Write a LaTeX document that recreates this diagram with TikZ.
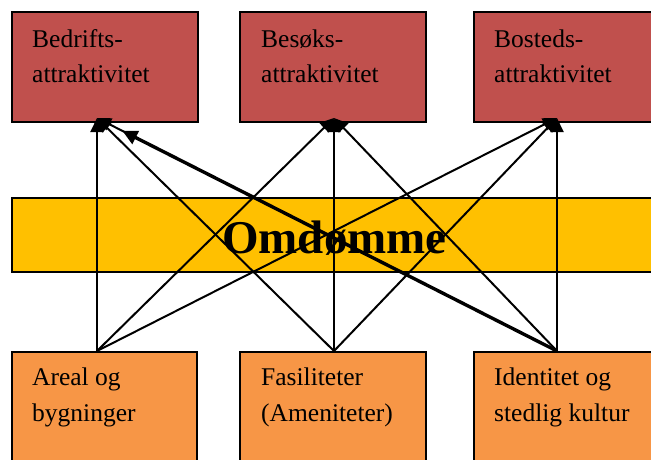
\documentclass[tikz,border=0pt]{standalone}
\usepackage{fontspec}
\setmainfont{Liberation Serif}
\usetikzlibrary{arrows.meta,calc}
\definecolor{topred}{HTML}{C0504D}
\definecolor{bandyel}{HTML}{FFC000}
\definecolor{botor}{HTML}{F79646}
\begin{document}
\begin{tikzpicture}[x=1pt,y=-1pt,
  box/.style={draw=black,line width=1.8pt,inner sep=0pt,anchor=north west,minimum width=186pt},
  topbox/.style={box,fill=topred,minimum height=110pt},
  botbox/.style={box,fill=botor,minimum height=130pt},
  lbl/.style={anchor=base west,inner sep=0pt,font=\rmfamily\fontsize{25.5}{35}\selectfont},
  link/.style={line width=2pt,-{Triangle[length=14pt,width=13pt]}},
  thicklink/.style={line width=3.4pt,-{Triangle[length=15pt,width=14pt]}},
]
\useasboundingbox (0,0) rectangle (651,459);
\clip (0,0) rectangle (651,459);
% top boxes
\node[topbox] (t1) at (11,11) {};
\node[topbox] (t2) at (239,11) {};
\node[topbox] (t3) at (473,11) {};
% band
\node[box,fill=bandyel,minimum width=660pt,minimum height=74pt] (band) at (11,197) {};
% bottom boxes
\node[botbox,minimum width=185pt] (b1) at (11,351) {};
\node[botbox] (b2) at (239,351) {};
\node[botbox] (b3) at (473,351) {};
% labels
\node[lbl] (t1a) at (32,47) {Bedrifts-};
\node[lbl] (t1b) at (32,82) {attraktivitet};
\node[lbl] (t2a) at (261,47) {Besøks-};
\node[lbl] (t2b) at (261,82) {attraktivitet};
\node[lbl] (t3a) at (494,47) {Bosteds-};
\node[lbl] (t3b) at (494,82) {attraktivitet};
\node[lbl] (b1a) at (32,385) {Areal og};
\node[lbl] (b1b) at (32,421) {bygninger};
\node[lbl] (b2a) at (261,385) {Fasiliteter};
\node[lbl] (b2b) at (261,421) {(Ameniteter)};
\node[lbl] (b3a) at (494,385) {Identitet og};
\node[lbl] (b3b) at (494,421) {stedlig kultur};
\node[anchor=base,inner sep=0pt,font=\rmfamily\bfseries\fontsize{47}{50}\selectfont] (omd) at (334.5,253) {Omdømme};
% anchor points
\coordinate (A) at (97,351);
\coordinate (B) at (334,351);
\coordinate (C) at (557,351);
\coordinate (P) at (97,118);
\coordinate (Q) at (334,118);
\coordinate (R) at (557,118);
\coordinate (Pc) at ($(P)!0.055!(C)$);
% connectors
\foreach \s in {A,B,C}{
  \foreach \t in {P,Q,R}{
    \draw[link] (\s) -- (\t);
  }
}
\draw[thicklink] (C) -- (Pc);
\end{tikzpicture}
\end{document}
